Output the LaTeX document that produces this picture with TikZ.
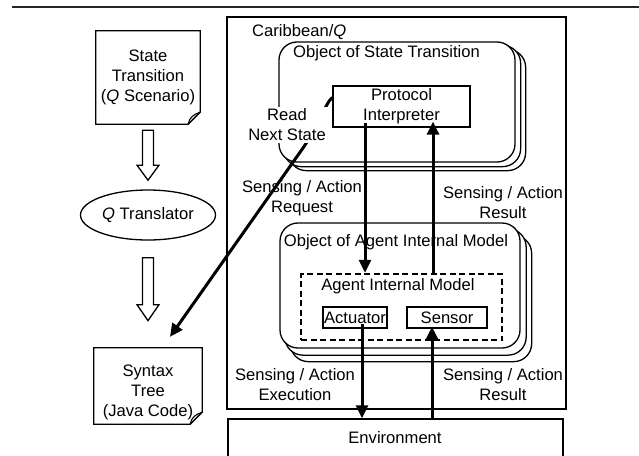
\documentclass[tikz,border=0pt]{standalone}
\usepackage{fontspec}
\setmainfont{Liberation Sans}
\usetikzlibrary{arrows.meta,calc,shapes.geometric,backgrounds}
\newcommand\docoutline[1]{%
  \draw[line width=1.3pt] (#1.north west) -- (#1.north east) -- ($(#1.south east)+(0,-12)$) -- ($(#1.south east)+(-12,0)$) -- (#1.south west) -- cycle;
  \draw[line width=1.1pt] ($(#1.south east)+(-12,0)$) .. controls ($(#1.south east)+(-11,-7)$) and ($(#1.south east)+(-6,-10)$) .. ($(#1.south east)+(0,-12)$);}
\begin{document}
\begin{tikzpicture}[x=1pt,y=-1pt,
  every node/.style={font=\fontsize{16.6pt}{20pt}\selectfont, inner sep=1pt, align=center},
  box/.style={draw, line width=1.3pt, inner sep=0pt},
  roundbox/.style={draw, line width=1.3pt, fill=white, rounded corners=18pt},
  thickarrow/.style={line width=3pt, -{Triangle[length=13pt,width=12pt]}},
  hollow/.style={draw, line width=1.3pt, fill=white},
  docbox/.style={minimum width=108pt, inner sep=0pt}]
\clip (0,0) rectangle (639,455);
% top rule
\draw[line width=1.3pt, black!85] (12,7) coordinate (tl) -- (639,7) coordinate (tr);
% left column
\node[docbox, minimum width=104pt, minimum height=93pt] (st) at (148,77.5) {State\\Transition\\(\textit{Q} Scenario)};
\docoutline{st}
\node[ellipse, draw, line width=1.3pt, minimum width=135pt, minimum height=50pt] (qt) at (148,215) {\textit{Q} Translator};
\node[docbox, minimum width=108pt, minimum height=76pt] (syn) at (148,386) {};
\docoutline{syn}
\node (synt) at (148,392) {Syntax\\Tree\\(Java Code)};
\draw[hollow] ($(st.south)+(-5.5,6)$) -- ++(11,0) -- ++(0,35) -- ++(5.5,0) -- ++(-11,15) -- ++(-11,-15) -- ++(5.5,0) -- cycle;
\draw[hollow] ($(qt.south)+(-5.5,17)$) -- ++(11,0) -- ++(0,47) -- ++(5.5,0) -- ++(-11,16) -- ++(-11,-16) -- ++(5.5,0) -- cycle;
\coordinate (synin) at ($(syn.north)+(22,-11)$);
% Caribbean frame
\node[box, line width=1.5pt, minimum width=339pt, minimum height=392pt] (car) at (396.5,213) {};
\node[anchor=west] (carl) at (251,32) {Caribbean/\textit{Q}};
% Object of State Transition
\node[roundbox, minimum width=236pt, minimum height=120pt] (ost) at (397,102) {};
\begin{scope}[on background layer]
  \draw[roundbox] ($(ost.north west)+(10,8)$) rectangle ($(ost.south east)+(10,8)$);
  \draw[roundbox] ($(ost.north west)+(5,4)$) rectangle ($(ost.south east)+(5,4)$);
\end{scope}
\node[anchor=west] (ostt) at (292,53) {Object of State Transition};
\node[box, minimum width=137pt, minimum height=41pt] (pi) at (401.5,106.5) {Protocol\\Interpreter};
% Read next state connector
\draw[thickarrow] ($(pi.west)+(0,-9)$) .. controls ($(pi.west)+(-6,-5)$) and (317,128) .. (303,148) -- (synin);
\node[fill=white, inner sep=2pt] (lread) at (287,125) {Read\\Next State};
% Object of Agent Internal Model
\node[roundbox, minimum width=240pt, minimum height=125pt] (oaim) at (400,285.5) {};
\begin{scope}[on background layer]
  \draw[roundbox] ($(oaim.north west)+(11,13)$) rectangle ($(oaim.south east)+(11,13)$);
  \draw[roundbox] ($(oaim.north west)+(5.5,6.5)$) rectangle ($(oaim.south east)+(5.5,6.5)$);
\end{scope}
\node (oaimt) at (396,242) {Object of Agent Internal Model};
\node[draw, line width=2.5pt, dash pattern=on 6pt off 3.5pt, minimum width=201pt, minimum height=66pt] (aim) at (401.5,307) {};
\node (aimt) at (398,286) {Agent Internal Model};
\node[box, minimum width=64pt, minimum height=21pt] (act) at (355,317.5) {Actuator};
\node[box, minimum width=80pt, minimum height=21pt] (sen) at (447,317.5) {Sensor};
% Environment
\node[box, line width=1.5pt, minimum width=335pt, minimum height=60pt] (env) at (395.5,449) {};
\node (envt) at (395,438) {Environment};
% labels
\node (lreq) at (302,198) {Sensing / Action\\Request};
\node (lres1) at (503,203) {Sensing / Action\\Result};
\node (lexe) at (295,385) {Sensing / Action\\Execution};
\node (lres2) at (503,385) {Sensing / Action\\Result};
% vertical connectors
\coordinate (xa) at (365,0);
\coordinate (xb) at (433,0);
\coordinate (xc) at (362,0);
\coordinate (xd) at (432,0);
\draw[thickarrow] ($(pi.south -| xa)+(0,-5)$) -- (aim.north -| xa);
\draw[thickarrow] (aim.north -| xb) -- ($(pi.south -| xb)+(0,-6)$);
\draw[thickarrow] ($(act.south -| xc)+(0,-5)$) -- (env.north -| xc);
\draw[thickarrow] (env.north -| xd) -- ($(sen.south -| xd)+(0,-2)$);
\end{tikzpicture}
\end{document}
